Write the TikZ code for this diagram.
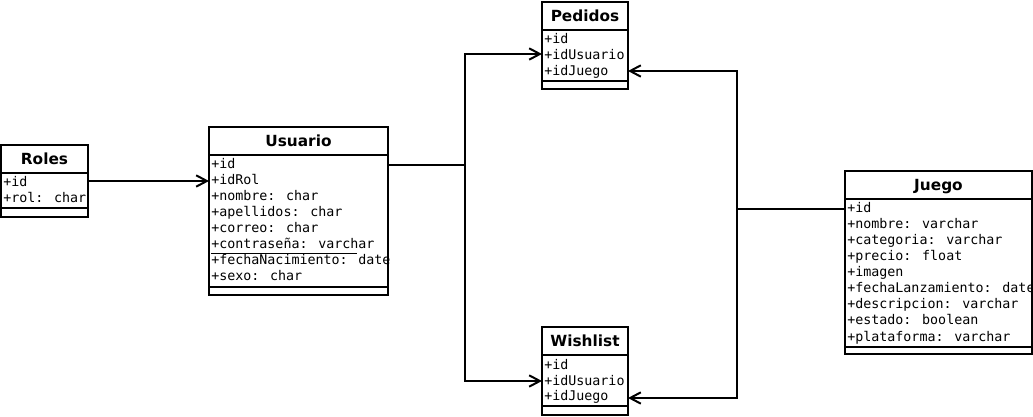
\documentclass[tikz,border=0pt]{standalone}
\usepackage{fontspec}
\setmainfont{DejaVu Sans}
\newfontfamily\monof{DejaVu Sans Mono}
\usetikzlibrary{arrows.meta,fit,calc}
\begin{document}
\begin{tikzpicture}[x=0.75pt,y=-0.75pt,
  comp/.style={draw, line width=1.5pt, inner sep=0pt, outer sep=0pt},
  ttl/.style={anchor=base, inner sep=0pt, font=\bfseries\fontsize{11.5}{13}\selectfont},
  attr/.style={anchor=base west, inner sep=0pt, font=\monof\fontsize{10}{12}\selectfont},
  conn/.style={line width=1.5pt},
  arr/.style={conn, -{Straight Barb[length=8pt,width=8.5pt]}}]
\fill[white] (0,0) rectangle (1033,417);
\useasboundingbox (0,0) rectangle (1033,417);

% Roles
\node[comp, fit={(1,145)(88,173)}] (rT) {};
\node[comp, fit={(1,173)(88,208)}] (rA) {};
\node[comp, fit={(1,208)(88,217)}] (rB) {};
\node[ttl] (rTt) at ($(rT.center)+(0,5.5)$) {Roles};
\foreach \t [count=\i] in {+id,+rol: char}
  \node[attr] (ra\i) at ($(rA.north west)+(2,{14+16*(\i-1)})$) {\t};

% Usuario
\node[comp, fit={(209,127)(388,155)}] (uT) {};
\node[comp, fit={(209,155)(388,287)}] (uA) {};
\node[comp, fit={(209,287)(388,295)}] (uB) {};
\node[ttl] (uTt) at ($(uT.center)+(0,5.5)$) {Usuario};
\foreach \t [count=\i] in {+id,+idRol,+nombre: char,+apellidos: char,+correo: char,+contraseña: varchar,+fechaNacimiento: date,+sexo: char}
  \node[attr] (ua\i) at ($(uA.north west)+(2,{14+16*(\i-1)})$) {\t};
\draw[line width=0.75pt] (211,254) -- (357,254);

% Pedidos
\node[comp, fit={(542,2)(628,30)}] (pT) {};
\node[comp, fit={(542,30)(628,81)}] (pA) {};
\node[comp, fit={(542,81)(628,89)}] (pB) {};
\node[ttl] (pTt) at ($(pT.center)+(0,5.5)$) {Pedidos};
\foreach \t [count=\i] in {+id,+idUsuario,+idJuego}
  \node[attr] (pa\i) at ($(pA.north west)+(2,{14+16*(\i-1)})$) {\t};

% Wishlist
\node[comp, fit={(542,327)(628,355)}] (wT) {};
\node[comp, fit={(542,355)(628,406)}] (wA) {};
\node[comp, fit={(542,406)(628,415)}] (wB) {};
\node[ttl] (wTt) at ($(wT.center)+(0,5.5)$) {Wishlist};
\foreach \t [count=\i] in {+id,+idUsuario,+idJuego}
  \node[attr] (wa\i) at ($(wA.north west)+(2,{14+16*(\i-1)})$) {\t};

% Juego
\node[comp, fit={(845,171)(1032,199)}] (jT) {};
\node[comp, fit={(845,199)(1032,347)}] (jA) {};
\node[comp, fit={(845,347)(1032,354)}] (jB) {};
\node[ttl] (jTt) at ($(jT.center)+(0,5.5)$) {Juego};
\foreach \t [count=\i] in {+id,+nombre: varchar,+categoria: varchar,+precio: float,+imagen,+fechaLanzamiento: date,+descripcion: varchar,+estado: boolean,+plataforma: varchar}
  \node[attr] (ja\i) at ($(jA.north west)+(2,{14+16*(\i-1)})$) {\t};

% connector ends
\coordinate (rOut) at ($(rA.north east)+(0,8)$);
\coordinate (uOut) at ($(uA.north east)+(0,10)$);
\coordinate (pInL) at ($(pA.north west)+(0,24)$);
\coordinate (pInR) at ($(pA.north east)+(0,41)$);
\coordinate (wInL) at ($(wA.north west)+(0,26)$);
\coordinate (wInR) at ($(wA.north east)+(0,43)$);
\coordinate (jOut) at ($(jA.north west)+(0,10)$);

\draw[arr] (rOut) -- (rOut -| uA.west);
\draw[arr] (uOut) -- ++(77,0) |- (pInL);
\draw[arr] (uOut) -- ++(77,0) |- (wInL);
\draw[arr] (jOut) -- ++(-108,0) |- (pInR);
\draw[arr] (jOut) -- ++(-108,0) |- (wInR);
\end{tikzpicture}
\end{document}
